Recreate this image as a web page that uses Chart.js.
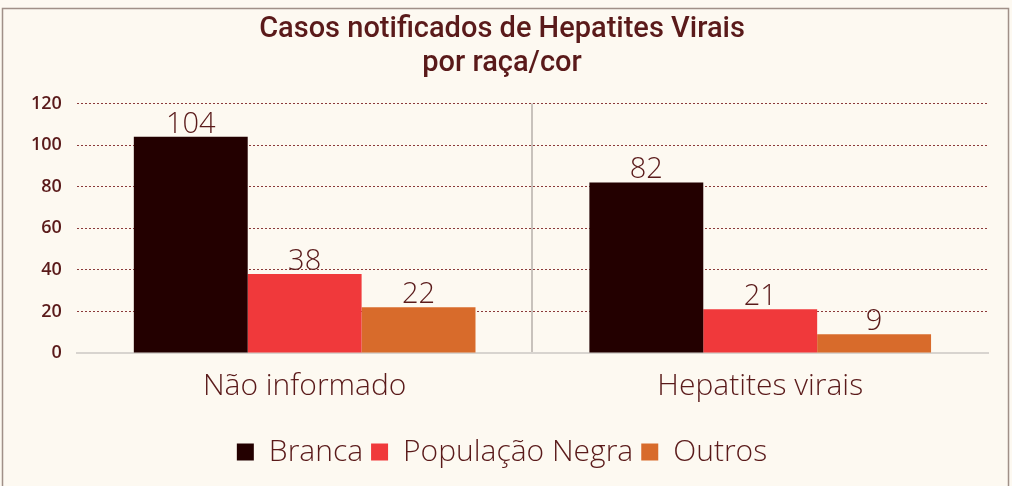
<!DOCTYPE html>
<html>
<head>
<meta charset="utf-8">
<script src="https://cdn.jsdelivr.net/npm/chart.js@4.4.1/dist/chart.umd.min.js"></script>
<style>
  html, body { margin: 0; padding: 0; background: #fdf9f1; }
  #wrap { width: 1012px; height: 486px; position: relative; }
</style>
</head>
<body>
<div id="wrap"><canvas id="myChart" width="1012" height="486"></canvas></div>
<script>
// data
const categories = ['Não informado', 'Hepatites virais'];
const seriesNames = ['Branca', 'População Negra', 'Outros'];
const branca = [104, 82];
const populacaoNegra = [38, 21];
const outros = [22, 9];
const yTicks = [0, 20, 40, 60, 80, 100, 120];

const colors = ['#230000', '#f0393b', '#d86b2b'];
const textColor = '#5a1a1a';
const lightFont = '"Open Sans"';

// draws the value above each bar
const valueLabels = {
	id: 'valueLabels',
	afterDatasetsDraw(chart) {
		const c = chart.ctx;
		c.save();
		c.font = '300 29px ' + lightFont;
		c.fillStyle = textColor;
		c.textAlign = 'center';
		c.textBaseline = 'bottom';
		chart.data.datasets.forEach((ds, i) => {
			chart.getDatasetMeta(i).data.forEach((bar, j) => {
				c.fillText(ds.data[j], bar.x, bar.y + 2);
			});
		});
		c.restore();
	}
};

// outer frame
const frame = {
	id: 'frame',
	beforeDraw(chart) {
		const c = chart.ctx;
		c.save();
		c.fillStyle = '#fdf9f1';
		c.fillRect(0, 0, chart.width, chart.height);
		c.strokeStyle = '#a09088';
		c.lineWidth = 1.5;
		c.strokeRect(2.5, 8.5, chart.width - 6, chart.height + 10);
		c.restore();
	}
};

const ctx = document.getElementById('myChart').getContext('2d');
new Chart(ctx, {
	type: 'bar',
	data: {
		labels: categories,
		datasets: [
			{ label: seriesNames[0], data: branca, backgroundColor: colors[0] },
			{ label: seriesNames[1], data: populacaoNegra, backgroundColor: colors[1] },
			{ label: seriesNames[2], data: outros, backgroundColor: colors[2] }
		]
	},
	options: {
		responsive: false,
		animation: false,
		barPercentage: 1.0,
		categoryPercentage: 0.75,
		layout: { padding: { left: 16, right: 24, top: 7, bottom: 9 } },
		plugins: {
			title: {
				display: true,
				text: ['Casos notificados de Hepatites Virais', 'por raça/cor'],
				color: textColor,
				font: { family: '"Roboto"', size: 29, weight: '500' },
				lineHeight: 1.2,
				padding: { top: 5, bottom: 22 }
			},
			legend: {
				position: 'bottom',
				labels: {
					color: textColor,
					font: { family: lightFont, size: 30, weight: '300' },
					boxWidth: 17,
					boxHeight: 17,
					padding: 8,
					generateLabels(chart) {
						return chart.data.datasets.map((ds, i) => ({
							text: ds.label,
							fillStyle: ds.backgroundColor,
							strokeStyle: ds.backgroundColor,
							lineWidth: 0,
							datasetIndex: i,
							fontColor: textColor
						}));
					}
				}
			},
			tooltip: { enabled: false }
		},
		scales: {
			x: {
				afterFit(scale) {
					scale.height += 10;
				},
				grid: {
					offset: true,
					color: (c) => (c.index === 1 ? '#c8c2bc' : 'transparent'),
					lineWidth: 2,
					drawTicks: false
				},
				border: { display: true, color: '#d8d4cf', width: 2 },
				ticks: {
					color: textColor,
					font: { family: lightFont, size: 30, weight: '300' },
					padding: 15
				}
			},
			y: {
				min: 0,
				max: 120,
				afterBuildTicks(scale) {
					scale.ticks = yTicks.map(v => ({ value: v }));
				},
				grid: {
					color: (c) => (c.tick.value === 0 ? 'transparent' : '#8b3a3a'),
					lineWidth: 1,
					drawTicks: false
				},
				border: { display: false, dash: [2, 2] },
				ticks: {
					color: textColor,
					font: { family: '"Open Sans"', size: 18, weight: '600' },
					padding: 15
				}
			}
		}
	},
	plugins: [frame, valueLabels]
});
</script>
</body>
</html>
